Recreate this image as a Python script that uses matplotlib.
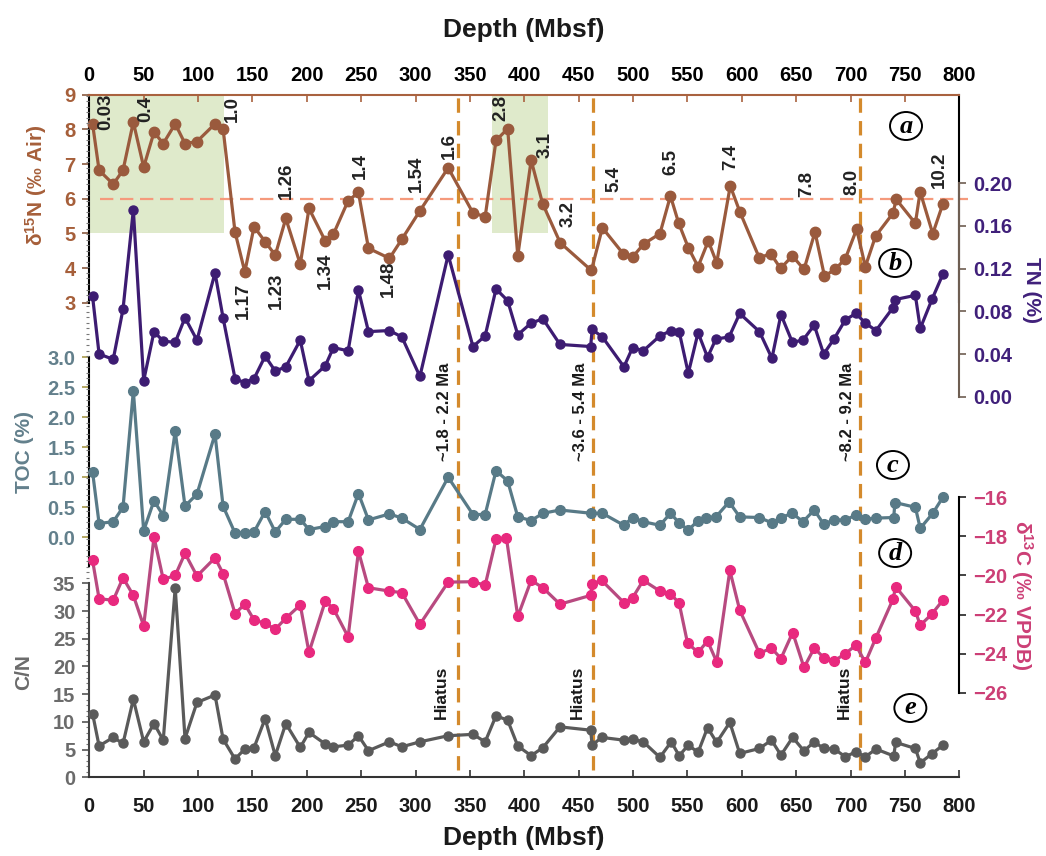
import numpy as np
import matplotlib.pyplot as plt
from matplotlib.patches import Rectangle, Ellipse
from matplotlib.ticker import MultipleLocator, FormatStrFormatter

plt.rcParams['font.family'] = ['Liberation Sans', 'DejaVu Sans']
plt.rcParams['mathtext.fontset'] = 'custom'
plt.rcParams['mathtext.rm'] = 'Liberation Sans:bold'
plt.rcParams['mathtext.it'] = 'Liberation Sans:bold'
plt.rcParams['mathtext.bf'] = 'Liberation Sans:bold'
plt.rcParams['mathtext.default'] = 'bf'

# ---------------- data ----------------
d15n_depth = [3, 9, 22, 31, 40.5, 50, 59.5, 68, 79, 88, 99, 115.6, 123, 134, 143, 151.5,
              161.7, 171, 180.7, 194, 202, 217, 224.5, 238, 247.5, 256.7, 276, 287.4, 304,
              330, 352.8, 364, 374, 384.7, 394, 406.3, 416.8, 433, 461.7, 471.8, 491, 499.6,
              510, 524.7, 534.4, 542, 550.8, 559.8, 569.2, 576.9, 589.4, 598.1, 616, 626.6,
              635.7, 646.5, 657.2, 667.3, 676, 685.8, 695.2, 705.6, 713.6, 723, 739, 742,
              759.6, 764, 775.6, 785]
d15n = [8.16, 6.82, 6.42, 6.82, 8.21, 6.91, 7.92, 7.59, 8.16, 7.59, 7.65, 8.16, 8.02, 5.04,
        3.89, 5.19, 4.76, 4.37, 5.43, 4.11, 5.72, 4.78, 4.98, 5.94, 6.18, 4.57, 4.28, 4.83,
        5.65, 6.89, 5.59, 5.48, 7.68, 8.02, 4.35, 7.11, 5.86, 4.73, 3.93, 5.16, 4.41, 4.32,
        4.70, 4.99, 6.08, 5.29, 4.59, 4.04, 4.78, 4.15, 6.37, 5.63, 4.30, 4.41, 3.99, 4.35,
        3.96, 5.04, 3.77, 3.96, 4.27, 5.12, 4.04, 4.92, 5.58, 5.98, 5.29, 6.2, 4.99, 5.86]

tn_depth = [3, 9, 22, 31, 40.5, 50, 59.5, 68, 79, 88, 99, 115.6, 123, 134, 143, 151.5, 161.7,
            171, 180.7, 194, 202, 217, 224.5, 238, 247.5, 256.7, 276, 287.4, 304, 330, 352.8,
            364, 374, 384.7, 394, 406.3, 417.1, 432.8, 461, 462.4, 471.8, 491.6, 499.6, 509.4,
            524.7, 535.1, 542.4, 550.8, 559.8, 568.5, 576.2, 588.3, 598.1, 616.2, 627.7, 636,
            646.5, 656.2, 666.6, 675.3, 684.7, 695.2, 704.9, 713.6, 723.4, 738.7, 740.8, 759.6,
            764.1, 775.2, 785]
tn = [0.094, 0.040, 0.035, 0.082, 0.175, 0.015, 0.061, 0.052, 0.051, 0.074, 0.053, 0.116,
      0.074, 0.017, 0.013, 0.017, 0.038, 0.024, 0.028, 0.053, 0.015, 0.029, 0.046, 0.043,
      0.100, 0.061, 0.062, 0.056, 0.019, 0.133, 0.047, 0.057, 0.101, 0.090, 0.058, 0.069,
      0.073, 0.049, 0.047, 0.063, 0.056, 0.028, 0.046, 0.043, 0.057, 0.062, 0.061, 0.022,
      0.060, 0.037, 0.054, 0.056, 0.078, 0.061, 0.036, 0.077, 0.051, 0.053, 0.067, 0.040,
      0.054, 0.072, 0.078, 0.069, 0.062, 0.083, 0.091, 0.095, 0.064, 0.092, 0.115]

toc_depth = [3, 9, 22, 31, 40.5, 50, 59.5, 68, 79, 88, 99, 115.6, 123, 134, 143, 151.5, 161.7,
             171, 180.7, 194, 202, 217, 224.5, 238, 247.5, 256.7, 276, 287.4, 304, 330, 352.8,
             364, 374, 384.7, 394, 406.3, 417.1, 432.8, 461.7, 471.8, 491.6, 499.6, 509.4,
             524.7, 534.4, 542.4, 550.8, 559.8, 567.5, 576.2, 588.3, 598.1, 616.2, 627.7, 636,
             646.5, 656.2, 666.6, 675.3, 684.7, 695.2, 704.9, 713.6, 723.4, 739.7, 740.8,
             759.6, 764.1, 775.6, 785]
toc = [1.09, 0.23, 0.26, 0.5, 2.44, 0.11, 0.61, 0.36, 1.77, 0.52, 0.72, 1.72, 0.52, 0.07,
       0.08, 0.09, 0.43, 0.09, 0.3, 0.3, 0.13, 0.18, 0.26, 0.26, 0.73, 0.29, 0.39, 0.32, 0.13,
       1.0, 0.38, 0.38, 1.11, 0.94, 0.34, 0.28, 0.4, 0.455, 0.4, 0.4, 0.2, 0.33, 0.26, 0.2,
       0.4, 0.24, 0.12, 0.28, 0.33, 0.34, 0.59, 0.34, 0.33, 0.24, 0.33, 0.4, 0.26, 0.455,
       0.22, 0.29, 0.29, 0.37, 0.3, 0.32, 0.33, 0.58, 0.5, 0.15, 0.4, 0.67]

d13c_depth = [3, 9, 22, 31, 40.5, 50, 59.5, 68, 79, 88, 99, 115.6, 123, 134, 143, 151.5, 161.7,
              171, 180.7, 194, 202, 217, 224.5, 238, 247.5, 256.7, 276, 287.4, 304, 330, 352.8,
              364, 374, 383.5, 394, 406.3, 417.1, 432.8, 461, 462.4, 471.1, 491.6, 499.6, 509.4,
              524.7, 534.4, 542.4, 550.1, 559.8, 568.5, 576.9, 589, 598.1, 616.2, 627.3, 636,
              646.8, 657.2, 666.6, 675.3, 685.1, 695.2, 704.9, 713.6, 723.4, 739, 741.5, 759.6,
              764.1, 774.5, 785]
d13c = [-19.23, -21.19, -21.27, -20.12, -21.02, -22.58, -18.04, -20.2, -20.0, -18.87, -20.03,
        -19.1, -19.9, -21.95, -21.47, -22.28, -22.45, -22.75, -22.19, -21.51, -23.94, -21.31,
        -21.7, -23.14, -18.76, -20.63, -20.8, -20.88, -22.5, -20.34, -20.32, -20.5, -18.15,
        -18.06, -22.1, -20.25, -20.63, -21.47, -21.02, -20.42, -20.25, -21.39, -21.14, -20.25,
        -20.8, -20.93, -21.42, -23.46, -23.94, -23.35, -24.42, -19.74, -21.78, -23.98, -23.72,
        -24.25, -22.92, -24.71, -23.72, -24.2, -24.37, -24.0, -23.57, -24.45, -23.18, -21.22,
        -20.58, -21.82, -22.55, -21.99, -21.26]

cn_depth = [3, 9, 22, 31, 40.5, 50, 59.5, 68, 79, 88, 99, 115.6, 123, 134, 143, 151.5, 161.7,
            171, 180.7, 194, 202, 217, 224.5, 238, 247.5, 256.7, 276, 287.4, 304, 330, 352.8,
            364, 374, 384.7, 394, 406.3, 417.1, 432.8, 461, 462.4, 471.1, 491.6, 499.6, 509.4,
            524.7, 535.1, 542.4, 550.8, 559.8, 568.5, 576.9, 589, 598.1, 616.2, 627.3, 636,
            646.8, 657.2, 666.6, 675.3, 685.1, 695.2, 704.9, 713.6, 723.4, 739.7, 741.5, 759.6,
            764.1, 774.5, 785]
cn = [11.5, 5.65, 7.2, 6.1, 14.1, 6.4, 9.7, 6.7, 34.2, 7.0, 13.5, 14.85, 6.9, 3.3, 5.1, 5.35,
      10.6, 3.9, 9.7, 5.4, 8.1, 6.0, 5.5, 5.8, 7.5, 4.8, 6.4, 5.5, 6.4, 7.5, 7.75, 6.4, 11.1,
      10.3, 5.65, 3.9, 5.35, 9.1, 8.5, 5.8, 7.2, 6.7, 6.85, 6.4, 3.6, 6.4, 3.9, 5.8, 4.5, 8.95,
      6.3, 9.9, 4.3, 5.2, 6.7, 4.0, 7.2, 4.75, 6.4, 5.2, 5.1, 3.7, 4.6, 3.7, 5.1, 3.85, 6.3,
      5.2, 2.6, 4.2, 5.8]

# age labels (Ma) written next to the d15N curve: text, depth, d15N level
age_text = ['0.03', '0.4', '1.0', '1.17', '1.23', '1.26', '1.34', '1.4', '1.48', '1.54', '1.6',
            '2.8', '3.1', '3.2', '5.4', '6.5', '7.4', '7.8', '8.0', '10.2']
age_depth = [15.5, 52, 132, 141.7, 172.4, 181.6, 216.8, 249, 275, 301, 331, 378, 419.6, 440.4,
             482.2, 534.4, 590, 659.7, 701.4, 781.5]
age_level = [8.5, 8.58, 8.58, 3.06, 3.35, 6.53, 3.92, 6.93, 3.7, 6.72, 7.53, 8.62, 7.54, 5.57,
             6.58, 7.06, 7.2, 6.44, 6.48, 6.82]

hiatus_depth = [339, 463.5, 709]
hiatus_age = ['~1.8 - 2.2 Ma', '~3.6 - 5.4 Ma', '~8.2 - 9.2 Ma']
green_spans = [(0, 124), (370, 422)]

# ---------------- colours ----------------
C_D15N = '#9a5a3d'
C_TN = '#3d1c72'
C_TOC = '#587a87'
C_D13C_LINE = '#b84a80'
C_D13C_MK = '#e8297e'
C_CN = '#5a5a5a'
C_ORANGE = '#d48a2c'

W, H = 1046, 856
fig = plt.figure(figsize=(W / 100, H / 100), dpi=100)
fig.patch.set_facecolor('white')

X0, X1 = 89.3, 959.3
YT, YB = 94.7, 777.3
POS = [X0 / W, 1 - YB / H, (X1 - X0) / W, (YB - YT) / H]


def lims(v_hi, p_hi, v_lo, p_lo):
    k = (v_hi - v_lo) / (p_lo - p_hi)
    return v_lo - (YB - p_lo) * k, v_hi + (p_hi - YT) * k


def new_ax():
    ax = fig.add_axes(POS)
    ax.set_facecolor('none')
    ax.set_xlim(0, 800)
    for s in ax.spines.values():
        s.set_visible(False)
    ax.tick_params(axis='x', which='both', bottom=False, top=False,
                   labelbottom=False, labeltop=False)
    ax.tick_params(axis='y', which='both', left=False, right=False,
                   labelleft=False, labelright=False)
    return ax


def fpos(x, y):
    return x / W, 1 - y / H


TICKFS = 14.5
LABFS = 15

# ---------- (a) d15N ----------
ax1 = new_ax()
ax1.set_ylim(*lims(9, 94.7, 3, 302.7))
for a, b in green_spans:
    ax1.add_patch(Rectangle((a, 5), b - a, 4, facecolor='#dfeacb', edgecolor='none', zorder=0))
for d in hiatus_depth:
    ax1.axvline(d, ymin=(YB - 770) / (YB - YT), ymax=1, color=C_ORANGE, lw=2.3,
                dashes=(4.5, 2.6), zorder=1)
ax1.plot([10, 808], [6, 6], color='#f59a7c', lw=1.6, dashes=(6, 3), clip_on=False, zorder=2)
ax1.plot(d15n_depth, d15n, '-o', color=C_D15N, lw=2.3, ms=7.5, clip_on=False, zorder=4)
ax1.spines['top'].set_visible(True)
ax1.spines['top'].set_color('#a9623f')
ax1.spines['top'].set_linewidth(1.5)
ax1.spines['left'].set_visible(True)
ax1.spines['left'].set_bounds(3, 9)
ax1.spines['left'].set_linewidth(1.5)
ax1.spines['right'].set_visible(True)
ax1.spines['right'].set_bounds(3.03, 9)
ax1.spines['right'].set_linewidth(1.5)
ax1.set_xticks(np.arange(0, 801, 50))
ax1.tick_params(axis='x', top=True, labeltop=True, direction='in', length=5, width=1.2,
                color='#a9623f', pad=7, labelsize=TICKFS)
ax1.set_yticks(np.arange(3, 10, 1))
ax1.tick_params(axis='y', left=True, labelleft=True, direction='out', length=5, width=1.2,
                color='#8a5a40', labelcolor='#a65f3a', labelsize=TICKFS, pad=5)
for lab in ax1.get_xticklabels() + ax1.get_yticklabels():
    lab.set_fontweight('bold')
for t, d, v in zip(age_text, age_depth, age_level):
    ax1.text(d, v, t, rotation=90, ha='center', va='center', fontsize=13.5,
             fontweight='bold', color='#222222', zorder=5)

# ---------- (b) TN ----------
ax2 = new_ax()
ax2.set_ylim(*lims(0.20, 183.3, 0.0, 396.7))
ax2.plot(tn_depth, tn, '-o', color=C_TN, lw=2.3, ms=6.5, clip_on=False, zorder=4)
ax2.spines['right'].set_visible(True)
ax2.spines['right'].set_bounds(0, 0.2)
ax2.spines['right'].set_color('#6e5e52')
ax2.spines['right'].set_linewidth(1.5)
ax2.set_yticks(np.arange(0, 0.201, 0.04))
ax2.yaxis.set_major_formatter(FormatStrFormatter('%.2f'))
ax2.tick_params(axis='y', right=True, labelright=True, direction='out', length=5, width=1.2,
                color='#6e5e52', labelcolor='#40207a', labelsize=TICKFS, pad=5)
for lab in ax2.get_yticklabels():
    lab.set_fontweight('bold')

# ---------- (c) TOC ----------
ax3 = new_ax()
ax3.set_ylim(*lims(3.0, 357.3, 0.0, 537.3))
ax3.plot(toc_depth, toc, '-o', color=C_TOC, lw=2.3, ms=7, clip_on=False, zorder=4)
ax3.spines['left'].set_visible(True)
ax3.spines['left'].set_bounds(-0.47, 3.0)
ax3.spines['left'].set_linewidth(1.5)
ax3.set_yticks(np.arange(0, 3.01, 0.5))
ax3.yaxis.set_major_formatter(FormatStrFormatter('%.1f'))
ax3.tick_params(axis='y', left=True, labelleft=True, direction='out', length=5, width=1.2,
                color='#a89a4a', labelcolor='#63808c', labelsize=TICKFS, pad=5)
for lab in ax3.get_yticklabels():
    lab.set_fontweight('bold')

# ---------- (d) d13C ----------
ax4 = new_ax()
ax4.set_ylim(*lims(-16, 497.3, -26, 692.7))
ax4.plot(d13c_depth, d13c, '-', color=C_D13C_LINE, lw=2.3, clip_on=False, zorder=4)
ax4.plot(d13c_depth, d13c, 'o', color=C_D13C_MK, ms=7, clip_on=False, zorder=5)
ax4.spines['right'].set_visible(True)
ax4.spines['right'].set_bounds(-26, -16)
ax4.spines['right'].set_linewidth(1.5)
ax4.set_yticks(np.arange(-26, -15, 2))
ax4.tick_params(axis='y', right=True, labelright=True, direction='out', length=5, width=1.2,
                color='#222222', labelcolor='#cc3f76', labelsize=TICKFS, pad=5)
for lab in ax4.get_yticklabels():
    lab.set_fontweight('bold')

# ---------- (e) C/N ----------
ax5 = new_ax()
ax5.set_ylim(*lims(35, 583.3, 0, 777.3))
ax5.plot(cn_depth, cn, '-o', color=C_CN, lw=2.3, ms=6.5, clip_on=False, zorder=4)
ax5.spines['left'].set_visible(True)
ax5.spines['left'].set_bounds(0, 35)
ax5.spines['left'].set_color('#444444')
ax5.spines['left'].set_linewidth(1.5)
ax5.spines['bottom'].set_visible(True)
ax5.spines['bottom'].set_linewidth(1.5)
ax5.spines['bottom'].set_color('#333333')
ax5.set_yticks(np.arange(0, 36, 5))
ax5.yaxis.set_minor_locator(MultipleLocator(1))
ax5.tick_params(axis='y', which='major', left=True, labelleft=True, direction='out', length=5,
                width=1.2, color='#555555', labelcolor='#6b6b6b', labelsize=TICKFS, pad=5)
ax5.tick_params(axis='y', which='minor', left=True, direction='out', length=2.5, width=0.8,
                color='#777777')
ax5.set_xticks(np.arange(0, 801, 50))
ax5.tick_params(axis='x', bottom=True, labelbottom=True, direction='in', length=5, width=1.2,
                color='#333333', labelcolor='#1a1a1a', labelsize=TICKFS, pad=14)
for lab in ax5.get_xticklabels() + ax5.get_yticklabels():
    lab.set_fontweight('bold')

# hiatus notes
xt = ax5.get_xaxis_transform()
for d, txt in zip(hiatus_depth, hiatus_age):
    ax5.text(d - 12, 0.535, txt, transform=xt, rotation=90, ha='center', va='center',
             fontsize=12, fontweight='bold', color='#1a1a1a')
    ax5.text(d - 15, 0.124, 'Hiatus', transform=xt, rotation=90, ha='center', va='center',
             fontsize=12.5, fontweight='bold', color='#1a1a1a')

# panel letters in slightly flattened circles
panel = [('a', 751, 126), ('b', 741, 263), ('c', 739, 465), ('d', 741, 553), ('e', 755, 708)]
for letter, d, ypx in panel:
    ax5.add_patch(Ellipse((d, (YB - ypx) / (YB - YT)), 32 / 1.0875, 28 / (YB - YT),
                          transform=xt, facecolor='white', edgecolor='black', lw=1.4,
                          zorder=6, clip_on=False))
    ax5.text(d, (YB - ypx) / (YB - YT), letter, transform=xt, ha='center', va='center',
             fontsize=19, fontfamily='Liberation Serif', style='italic', fontweight='bold',
             zorder=7)

# axis titles
fig.text(*fpos(524, 30), 'Depth (Mbsf)', ha='center', va='center', fontsize=19,
         fontweight='bold', color='#1a1a1a')
fig.text(*fpos(524, 838), 'Depth (Mbsf)', ha='center', va='center', fontsize=19,
         fontweight='bold', color='#1a1a1a')
fig.text(*fpos(36, 185), r'$\delta^{15}$N (‰ Air)', rotation=90, ha='center', va='center',
         fontsize=LABFS, fontweight='bold', color='#a65f3a')
fig.text(*fpos(24, 452), 'TOC (%)', rotation=90, ha='center', va='center',
         fontsize=LABFS, fontweight='bold', color='#63808c')
fig.text(*fpos(24, 672), 'C/N', rotation=90, ha='center', va='center',
         fontsize=LABFS, fontweight='bold', color='#6b6b6b')
fig.text(*fpos(1032, 290), 'TN (%)', rotation=270, ha='center', va='center',
         fontsize=LABFS, fontweight='bold', color='#40207a')
fig.text(*fpos(1022, 595), r'$\delta^{13}$C (‰ VPDB)', rotation=270, ha='center',
         va='center', fontsize=LABFS, fontweight='bold', color='#cc3f76')

fig.savefig('out.png', dpi=100, facecolor='white')
